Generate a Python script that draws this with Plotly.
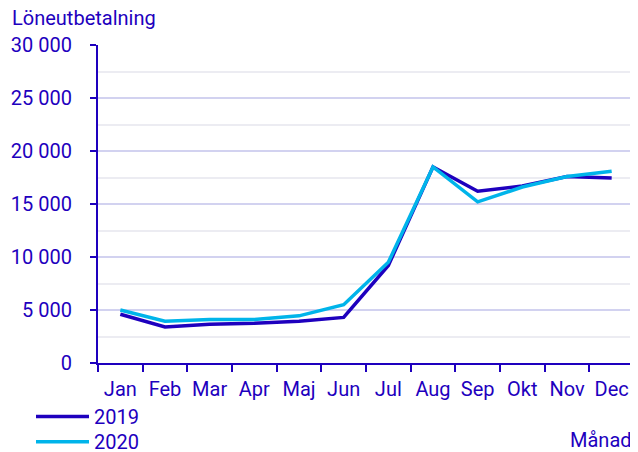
import plotly.graph_objects as go

# Månader och löneutbetalning per år
months = ["Jan", "Feb", "Mar", "Apr", "Maj", "Jun",
          "Jul", "Aug", "Sep", "Okt", "Nov", "Dec"]
values_2019 = [4600, 3400, 3650, 3750, 3950, 4300,
               9200, 18500, 16200, 16700, 17600, 17450]
values_2020 = [5000, 3950, 4100, 4100, 4450, 5500,
               9500, 18500, 15200, 16600, 17600, 18100]

DARK = "#1e00be"
LIGHT = "#00b4ea"
FONT = "Roboto"
FS = 20

fig = go.Figure()
fig.add_trace(go.Scatter(x=months, y=values_2019, name="2019", mode="lines",
                         line=dict(color=DARK, width=3.5), legend="legend"))
fig.add_trace(go.Scatter(x=months, y=values_2020, name="2020", mode="lines",
                         line=dict(color=LIGHT, width=3.5), legend="legend2"))

legend_common = dict(orientation="v", xanchor="left", yanchor="top",
                     font=dict(size=FS, color=DARK), itemwidth=53,
                     bgcolor="rgba(0,0,0,0)")

fig.update_layout(
    width=630, height=444,
    margin=dict(l=90, r=4, t=37, b=89, autoexpand=False),
    plot_bgcolor="white", paper_bgcolor="white",
    font=dict(family=FONT, size=FS, color=DARK),
    showlegend=True,
    legend=dict(x=-0.125, y=-0.107, **legend_common),
    legend2=dict(x=-0.125, y=-0.186, **legend_common),
    xaxis=dict(
        showgrid=False, showline=True, linecolor=DARK, linewidth=2,
        ticks="outside", tickson="boundaries", ticklen=7, tickcolor=DARK, tickwidth=2,
        tickfont=dict(size=FS, color=DARK), range=[-0.5, 11.5],
        tickangle=0, ticklabelstandoff=7,
    ),
    yaxis=dict(
        range=[0, 30000], tickvals=[0, 5000, 10000, 15000, 20000, 25000, 30000],
        ticktext=["0", "5 000", "10 000", "15 000", "20 000", "25 000", "30 000"],
        showgrid=True, gridcolor="#d2d2f0", gridwidth=1.5,
        minor=dict(dtick=2500, showgrid=True, gridcolor="#ececf2", gridwidth=1.5),
        showline=True, linecolor=DARK, linewidth=2,
        ticks="outside", ticklen=6, tickcolor=DARK, tickwidth=2,
        tickfont=dict(size=FS, color=DARK), zeroline=False,
        ticklabelstandoff=14,
    ),
    annotations=[
        dict(text="Löneutbetalning", xref="paper", yref="paper", x=-0.164, y=1.0,
             xanchor="left", yanchor="middle", yshift=27, showarrow=False,
             font=dict(size=FS, color=DARK)),
        dict(text="Månad", xref="paper", yref="paper", x=1.0, y=-0.242,
             xanchor="right", yanchor="middle", showarrow=False,
             font=dict(size=FS, color=DARK)),
    ],
    shapes=[
        dict(type="line", xref="paper", yref="paper", x0=1, x1=1, y0=0, y1=1,
             line=dict(color="#d2d2f0", width=1.5), layer="below"),
    ],
)

fig.write_html("out.html")
